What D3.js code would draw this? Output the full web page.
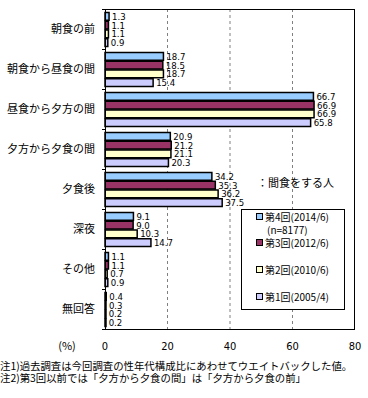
<!DOCTYPE html>
<html><head><meta charset="utf-8">
<script src="https://cdn.jsdelivr.net/npm/d3@7"></script>
<style>
body{margin:0;background:#fff;}
svg{display:block;}
text{font-family:"Noto Sans CJK JP","DejaVu Sans",sans-serif;fill:#000;}
.num{font-family:"DejaVu Sans Condensed","Liberation Sans",sans-serif;}
</style></head>
<body>
<svg id="c" width="368" height="398"></svg>
<script>
const categories = ["朝食の前","朝食から昼食の間","昼食から夕方の間","夕方から夕食の間","夕食後","深夜","その他","無回答"];
const seriesNames = ["第4回(2014/6)","第3回(2012/6)","第2回(2010/6)","第1回(2005/4)"];
const seriesColors = ["#99CCFF","#993366","#FFFFCC","#CCCCFF"];
const s2014 = [1.3,18.7,66.7,20.9,34.2,9.1,1.1,0.4];
const s2012 = [1.1,18.5,66.9,21.2,35.3,9.0,1.1,0.3];
const s2010 = [1.1,18.7,66.9,21.1,36.2,10.3,0.7,0.2];
const s2005 = [0.9,15.4,65.8,20.3,37.5,14.7,0.9,0.2];
const seriesValues = [s2014,s2012,s2010,s2005];
const xTicks = [0,20,40,60,80];
const notes = ["注1)過去調査は今回調査の性年代構成比にあわせてウエイトバックした値。","注2)第3回以前では「夕方から夕食の間」は「夕方から夕食の前」"];

const svg = d3.select("#c");
const L=105,R=354,T=9,B=329;
const x = d3.scaleLinear().domain([0,80]).range([L,L+250]);
const y = d3.scaleBand().domain(categories).range([T,B]);
const inner = d3.scaleBand().domain(d3.range(4)).range([3,38]).padding(0);

// gridlines
svg.append("g").selectAll("line").data([20,40,60]).join("line")
  .attr("x1",d=>x(d)).attr("x2",d=>x(d)).attr("y1",T).attr("y2",B)
  .attr("stroke","#808080").attr("stroke-dasharray","3,3").attr("stroke-width",1);

// bars
const groups = svg.append("g").selectAll("g").data(categories).join("g")
  .attr("transform",d=>`translate(0,${y(d)})`);
groups.each(function(cat,ci){
  const g=d3.select(this);
  seriesValues.forEach((vals,si)=>{
    const v=vals[ci];
    g.append("rect").attr("x",x(0)).attr("y",inner(si)+0.5)
      .attr("width",Math.max(x(v)-x(0),1)).attr("height",inner.bandwidth()-1)
      .attr("fill",seriesColors[si]).attr("stroke","#000").attr("stroke-width",1.5);
    g.append("text").attr("class","num").attr("x",x(v)+3).attr("y",inner(si)+inner.bandwidth()/2+3.5)
      .attr("font-size",9.5).text(v.toFixed(1));
  });
});

// frame
svg.append("rect").attr("x",L+0.5).attr("y",T+0.5).attr("width",R-L).attr("height",B-T)
  .attr("fill","none").attr("stroke","#000");
// left ticks
svg.append("g").selectAll("line").data(d3.range(categories.length+1)).join("line")
  .attr("x1",L-3).attr("x2",L).attr("y1",d=>T+d*y.step()+0.5).attr("y2",d=>T+d*y.step()+0.5)
  .attr("stroke","#000");

// category labels
svg.append("g").selectAll("text").data(categories).join("text")
  .attr("x",95).attr("y",d=>y(d)+y.bandwidth()/2+4).attr("text-anchor","end")
  .attr("font-size",11).text(d=>d);

// x tick labels
svg.append("g").selectAll("text").data(xTicks).join("text").attr("class","num")
  .attr("x",d=>x(d)).attr("y",350).attr("text-anchor","middle").attr("font-size",11).text(d=>d);
svg.append("text").attr("x",67).attr("y",350).attr("text-anchor","middle").attr("font-size",11).text("(%)");

// annotation
svg.append("text").attr("x",257).attr("y",187).attr("font-size",11).text("：間食をする人");

// legend
svg.append("rect").attr("x",241.5).attr("y",209.5).attr("width",103).attr("height",100)
  .attr("fill","#fff").attr("stroke","#000");
const legY=[217,243,270,297];
seriesNames.forEach((n,i)=>{
  svg.append("rect").attr("x",256.5).attr("y",legY[i]-3.5).attr("width",6).attr("height",6)
    .attr("fill",seriesColors[i]).attr("stroke","#000");
  svg.append("text").attr("x",265).attr("y",legY[i]+4).attr("font-size",10).text(n);
});
svg.append("text").attr("x",267).attr("y",234).attr("font-size",10).text("(n=8177)");

// notes
notes.forEach((t,i)=>{
  svg.append("text").attr("x",0).attr("y",370+i*12).attr("font-size",10.4).text(t);
});
</script>
</body></html>
